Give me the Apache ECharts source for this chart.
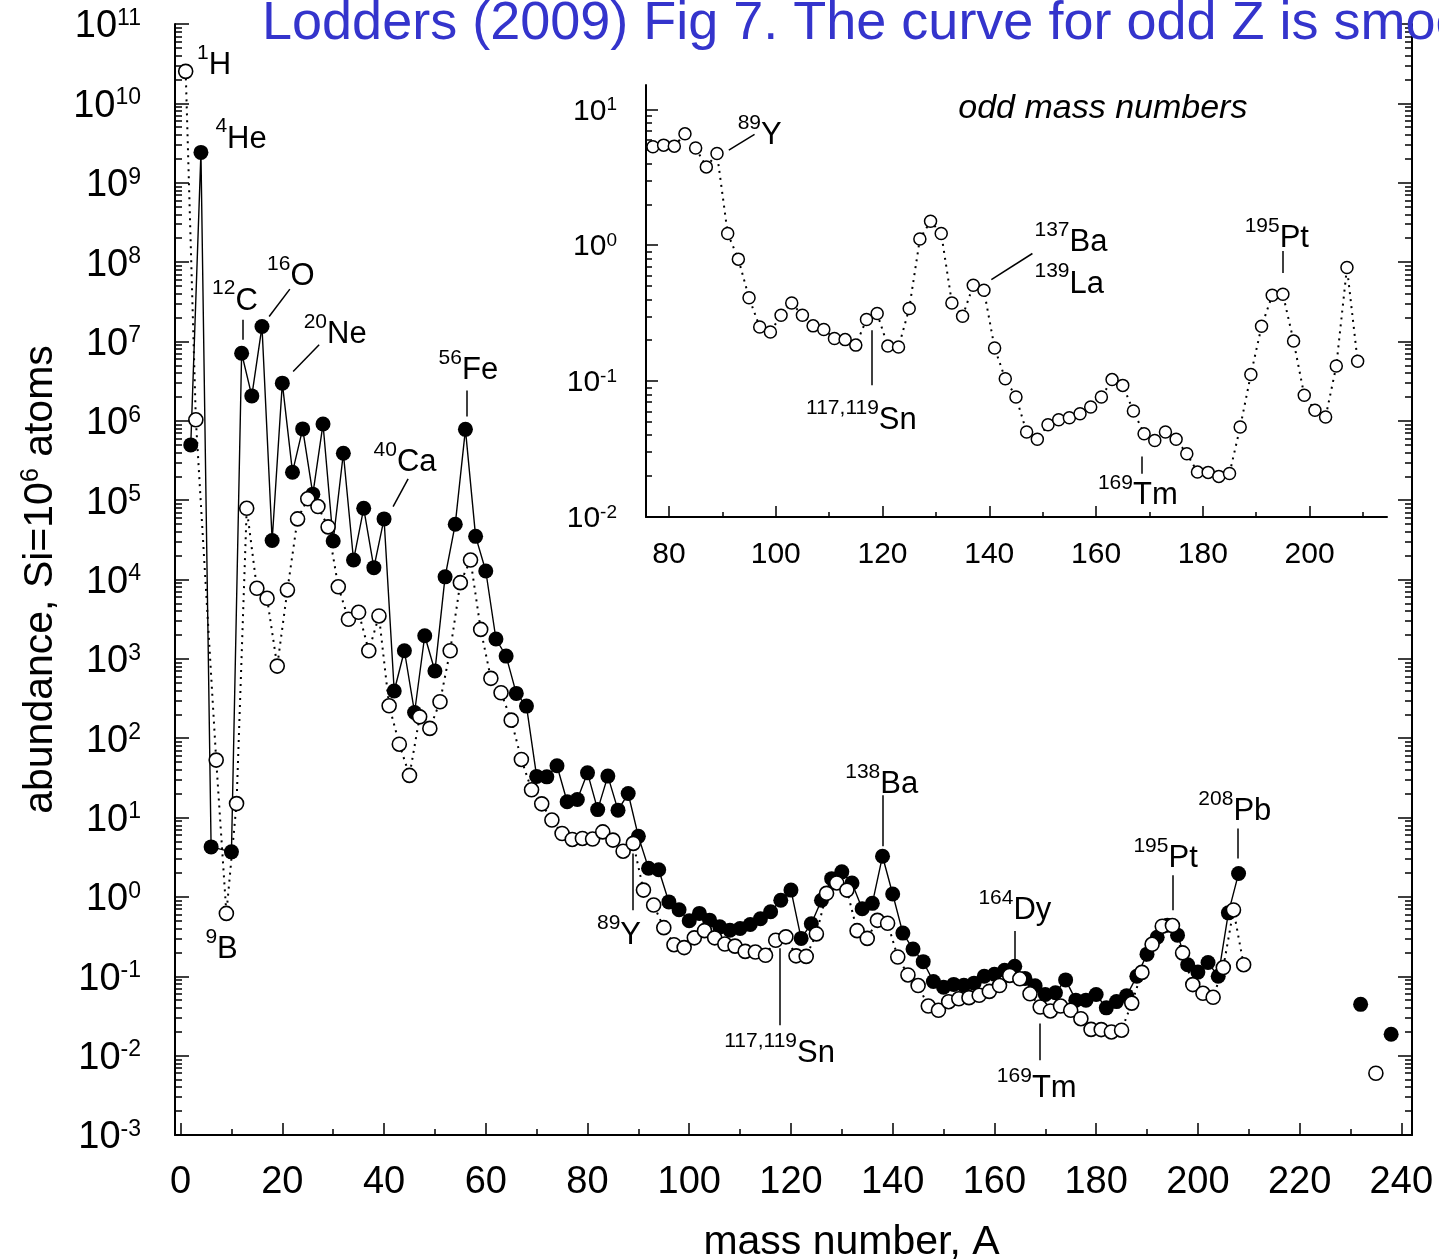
<!DOCTYPE html>
<html><head><meta charset="utf-8">
<script src="https://cdn.jsdelivr.net/npm/echarts@6/dist/echarts.min.js"></script>
<style>html,body{margin:0;padding:0;background:#fff;}#c{width:1439px;height:1260px;}</style>
</head><body><div id="c"></div>
<script>
// ---------------- data ----------------
const evenA = [2,4,6,10,12,14,16,18,20,22,24,26,28,30,32,34,36,38,40,42,44,46,48,50,52,54,56,58,60,62,64,66,68,70,72,74,76,78,80,82,84,86,88,90,92,94,96,98,100,102,104,106,108,110,112,114,116,118,120,122,124,126,128,130,132,134,136,138,140,142,144,146,148,150,152,154,156,158,160,162,164,166,168,170,172,174,176,178,180,182,184,186,188,190,192,194,196,198,200,202,204,206,208];
const evenVal = [4.97e5,2.41e9,4.27,3.7,7.1e6,2.06e6,1.54e7,3.1e4,2.98e6,2.25e5,7.9e5,1.19e5,9.1e5,3.06e4,3.9e5,1.76e4,7.9e4,1.41e4,5.8e4,393,1265,211,1955,702,1.08e4,4.97e4,7.8e5,3.5e4,1.28e4,1780,1084,367,254,33,32.6,44.9,15.8,16.9,36.6,12.6,33.3,12.4,20.1,5.8,2.3,2.2,0.865,0.69,0.50,0.62,0.51,0.42,0.38,0.40,0.45,0.53,0.65,0.91,1.22,0.30,0.46,0.91,1.7,2.07,1.5,0.71,0.83,3.26,1.09,0.35,0.22,0.153,0.086,0.073,0.079,0.077,0.082,0.1,0.106,0.119,0.134,0.094,0.076,0.059,0.062,0.09,0.05,0.05,0.059,0.04,0.048,0.057,0.1,0.19,0.31,0.44,0.33,0.14,0.113,0.149,0.1,0.63,1.97];
const oddA = [1,3,7,9,11,13,15,17,19,21,23,25,27,29,31,33,35,37,39,41,43,45,47,49,51,53,55,57,59,61,63,65,67,69,71,73,75,77,79,81,83,85,87,89,91,93,95,97,99,101,103,105,107,109,111,113,115,117,119,121,123,125,127,129,131,133,135,137,139,141,143,145,147,149,151,153,155,157,159,161,163,165,167,169,171,173,175,177,179,181,183,185,187,189,191,193,195,197,199,201,203,205,207,209];
const oddVal = [2.53e10,1.03e6,53,0.62,15,7.9e4,7750,5800,811,7380,5.8e4,1.04e5,8.3e4,4.6e4,8100,3150,3860,1265,3470,256,84,34,186,133,288,1265,9120,1.76e4,2350,568,374,169,54,22.4,14.9,9.3,6.3,
  5.3,5.45,5.36,6.6,5.2,3.77,4.73,1.22,0.79,0.41,0.25,0.23,0.305,0.376,0.305,0.255,0.24,0.206,0.202,0.184,0.284,0.314,0.181,0.178,0.342,1.11,1.5,1.22,0.376,0.30,0.507,0.466,0.175,0.104,0.0764,0.0422,0.0373,0.0478,0.052,0.0538,0.0576,0.0645,0.0764,0.1026,0.093,0.0602,0.041,0.0366,0.0422,0.0373,0.0292,0.0214,0.0213,0.0199,0.0209,0.0459,0.112,0.253,0.428,0.436,0.197,0.0786,0.061,0.0544,0.129,0.685,0.14];
const actEvenA = [232,238];
const actEvenVal = [0.0443,0.0186];
const actOddA = [235];
const actOddVal = [0.006];
const insetFromA = 77;

// tick positions
const mainXMajor = [0,20,40,60,80,100,120,140,160,180,200,220,240];
const mainXMinor = [10,30,50,70,90,110,130,150,170,190,210,230];
const mainYMajor = [1e-3,1e-2,1e-1,1,10,100,1e3,1e4,1e5,1e6,1e7,1e8,1e9,1e10,1e11];
const insetXMajor = [80,100,120,140,160,180,200];
const insetXMinor = [90,110,130,150,170,190,210];
const insetYMajor = [0.01,0.1,1,10];

// annotations: [superscript, element, A, log10(value)] (label left / text middle)
const mainNotes = [
  ['1','H',3.14,10.48],['4','He',6.74,9.55],['12','C',6.09,7.51],['16','O',16.9,7.82],
  ['20','Ne',24.1,7.09],['56','Fe',50.63,6.635],['40','Ca',37.85,5.474],['9','B',4.78,-0.661],
  ['89','Y',81.76,-0.49],['117,119','Sn',106.78,-1.978],['138','Ba',130.57,1.42],
  ['164','Dy',156.76,-0.175],['169','Tm',160.38,-2.416],['195','Pt',187.23,0.481],['208','Pb',200.0,1.073]
];
const mainLeaders = [
  [12.19,7.272,12.19,7.02],[17.41,7.314,21.48,7.659],[22.13,6.62,27.24,6.958],
  [56.21,6.381,56.21,6.053],[41.78,4.918,44.73,5.267],[88.84,0.547,88.84,-0.168],
  [117.79,-0.647,117.79,-1.618],[138.09,1.282,138.09,0.639],[163.97,-0.429,163.97,-0.82],
  [168.89,-1.596,168.89,-2.059],[195.09,0.274,195.09,-0.168],[207.86,0.863,207.86,0.484]
];
const insetNotes = [
  ['89','Y',92.78,0.807],['117,119','Sn',105.59,-1.291],['137','Ba',148.38,0.019],
  ['139','La',148.38,-0.286],['195','Pt',187.74,0.051],['169','Tm',160.26,-1.844]
];
const insetLeaders = [
  [91.21,0.70,96.03,0.815],[117.9,-0.626,117.9,-1.031],[140.39,-0.253,148.08,-0.061],
  [194.94,-0.042,194.94,-0.204],[168.51,-1.554,168.51,-1.681]
];
const insetTitle = ['odd mass numbers',134.1,1.006];

// ---------------- helpers ----------------
const FONT = '"Liberation Sans", Arial, Helvetica, sans-serif';
const BLACK = '#000';
function minorLog(lo, hi){ const r=[]; for(let e=lo;e<hi;e++){ for(let k=2;k<=9;k++){ r.push(k*Math.pow(10,e)); } } return r; }
const mainYMinor = minorLog(-3,11);
const insetYMinor = minorLog(-2,2);
function pow(v){ return Math.pow(10,v); }
function expFmt(v){ const e=Math.round(Math.log10(v)); return '{b|10}{e|'+(e<0?'-'+(-e):e)+'}'; }

const noteRich = {
  s:{fontSize:21,lineHeight:21,verticalAlign:'top',fontFamily:FONT,color:BLACK},
  m:{fontSize:31,lineHeight:46,fontFamily:FONT,color:BLACK},
  i:{fontSize:34,lineHeight:40,fontStyle:'italic',fontFamily:FONT,color:BLACK}
};
function notePoints(list){
  return list.map(n=>({coord:[n[2],pow(n[3])], value:0,
    label:{formatter:'{s|'+n[0]+'}{m|'+n[1]+'}'}}));
}
function leaderLines(list){
  return list.map(l=>[{coord:[l[0],pow(l[1])]},{coord:[l[2],pow(l[3])]}]);
}
function markPt(data){
  return {symbol:'circle',symbolSize:1,silent:true,itemStyle:{color:'rgba(0,0,0,0)'},
    label:{show:true,position:'right',distance:0,rich:noteRich,color:BLACK},data:data};
}
function markLn(data){
  return {symbol:['none','none'],silent:true,animation:false,label:{show:false},
    lineStyle:{color:BLACK,width:1.5,type:'solid'},emphasis:{disabled:true},data:data};
}
function xAx(grid,min,max,ticks,len,labels,extra){
  return Object.assign({gridIndex:grid,type:'value',min:min,max:max,position:'bottom',
    axisLine:{show:!!labels,onZero:false,lineStyle:{color:BLACK,width:2}},
    axisTick:{show:true,inside:true,length:len,customValues:ticks,lineStyle:{color:BLACK,width:1.5}},
    axisLabel:labels?{show:true,customValues:labels,color:BLACK,fontFamily:FONT}:{show:false},
    splitLine:{show:false}},extra||{});
}
function yAx(grid,min,max,pos,ticks,len,line,labels,extra){
  return Object.assign({gridIndex:grid,type:'log',logBase:10,min:min,max:max,position:pos,
    axisLine:{show:line,onZero:false,lineStyle:{color:BLACK,width:2}},
    axisTick:{show:true,inside:true,length:len,customValues:ticks,lineStyle:{color:BLACK,width:1.5}},
    axisLabel:labels||{show:false},
    splitLine:{show:false},minorTick:{show:false}},extra||{});
}

const pairs = (xs,ys)=>xs.map((x,i)=>[x,ys[i]]);
const insetData = pairs(oddA,oddVal).filter(p=>p[0]>=insetFromA);

const filledStyle = {color:BLACK,borderWidth:0,opacity:1};
const openStyle = {color:'#fff',borderColor:BLACK,borderWidth:1.6,opacity:1};

const option = {
  animation:false,
  backgroundColor:'#fff',
  title:{text:'Lodders (2009) Fig 7. The curve for odd Z is smoother',left:262,top:-3,padding:0,
    textStyle:{fontSize:54,fontWeight:'normal',color:'#3434cc',fontFamily:FONT}},
  grid:[
    {left:175,right:27,top:24,bottom:125,outerBoundsMode:'none',containLabel:false},
    {left:646,right:52,top:85,bottom:743,outerBoundsMode:'none',containLabel:false}
  ],
  xAxis:[
    xAx(0,-1.1,242.1,mainXMajor,12,mainXMajor,{
      axisLabel:{show:true,customValues:mainXMajor,color:BLACK,fontFamily:FONT,fontSize:38,margin:29},
      name:'mass number, A',nameLocation:'middle',nameGap:87,
      nameTextStyle:{fontSize:41,color:BLACK,fontFamily:FONT,padding:[0,0,0,116]}}),
    xAx(0,-1.1,242.1,mainXMinor,6,null),
    xAx(1,75.7,214.5,insetXMajor,11,insetXMajor,{
      axisLabel:{show:true,customValues:insetXMajor,color:BLACK,fontFamily:FONT,fontSize:30,margin:23}}),
    xAx(1,75.7,214.5,insetXMinor,5,null)
  ],
  yAxis:[
    yAx(0,1e-3,1e11,'left',mainYMajor,14,true,{show:true,customValues:mainYMajor,formatter:expFmt,margin:34,
      padding:[6,0,0,0],
      rich:{b:{fontSize:38,lineHeight:40,fontFamily:FONT,color:BLACK},
            e:{fontSize:23,lineHeight:33,verticalAlign:'top',fontFamily:FONT,color:BLACK}}},
      {name:'{a|abundance, Si=10}{s|6}{a| atoms}',nameLocation:'middle',nameRotate:90,nameGap:113,
       nameTextStyle:{rich:{a:{fontSize:41,lineHeight:43,fontFamily:FONT,color:BLACK},
                            s:{fontSize:25,lineHeight:27,verticalAlign:'top',fontFamily:FONT,color:BLACK}}}}),
    yAx(0,1e-3,1e11,'left',mainYMinor,7,false,null),
    yAx(0,1e-3,1e11,'right',mainYMajor,14,true,null),
    yAx(0,1e-3,1e11,'right',mainYMinor,7,false,null),
    yAx(1,0.01,15.1,'left',insetYMajor,12,true,{show:true,customValues:insetYMajor,formatter:expFmt,margin:29,
      padding:[4,0,0,0],
      rich:{b:{fontSize:30,lineHeight:32,fontFamily:FONT,color:BLACK},
            e:{fontSize:19,lineHeight:21,verticalAlign:'top',fontFamily:FONT,color:BLACK}}}),
    yAx(1,0.01,15.1,'left',insetYMinor,6,false,null)
  ],
  series:[
    {type:'line',name:'even A',xAxisIndex:0,yAxisIndex:0,data:pairs(evenA,evenVal),
     symbol:'circle',symbolSize:15,itemStyle:filledStyle,lineStyle:{color:BLACK,width:1.4},z:2,
     markPoint:markPt(notePoints(mainNotes)),markLine:markLn(leaderLines(mainLeaders))},
    {type:'line',name:'odd A',xAxisIndex:0,yAxisIndex:0,data:pairs(oddA,oddVal),
     symbol:'circle',symbolSize:14,itemStyle:openStyle,
     lineStyle:{color:BLACK,width:2,type:[2,5]},z:3},
    {type:'scatter',name:'Th, U even',xAxisIndex:0,yAxisIndex:0,data:pairs(actEvenA,actEvenVal),
     symbol:'circle',symbolSize:15,itemStyle:filledStyle,z:2},
    {type:'scatter',name:'U odd',xAxisIndex:0,yAxisIndex:0,data:pairs(actOddA,actOddVal),
     symbol:'circle',symbolSize:14,itemStyle:openStyle,z:3},
    {type:'line',name:'odd mass numbers',xAxisIndex:2,yAxisIndex:4,data:insetData,
     symbol:'circle',symbolSize:12,itemStyle:{color:'#fff',borderColor:BLACK,borderWidth:1.5},
     lineStyle:{color:BLACK,width:2,type:[2,5]},z:3,
     markPoint:markPt(notePoints(insetNotes).concat([{coord:[insetTitle[1],pow(insetTitle[2])],value:0,
        label:{formatter:'{i|'+insetTitle[0]+'}'}}])),
     markLine:markLn(leaderLines(insetLeaders))}
  ]
};
const chart = echarts.init(document.getElementById('c'),null,{renderer:'canvas',width:1439,height:1260});
chart.setOption(option);
</script>
</body></html>
